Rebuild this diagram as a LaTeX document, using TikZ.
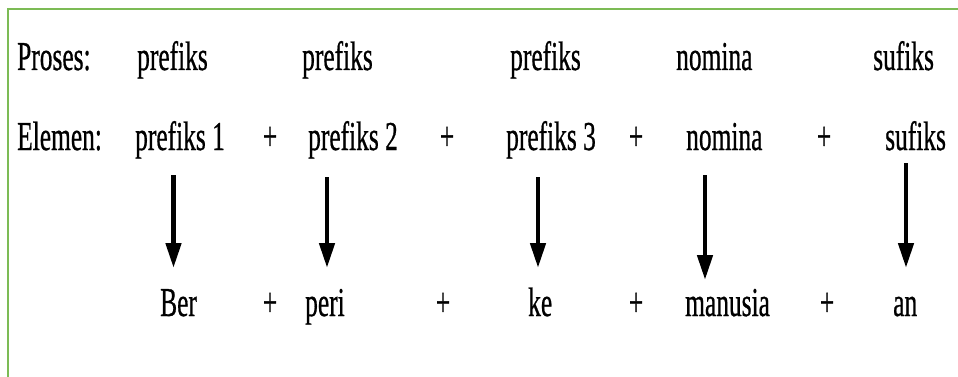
\documentclass[tikz,border=0pt]{standalone}
\usepackage{fontspec}
\setmainfont[FakeBold=0.8]{Liberation Serif}
\usetikzlibrary{arrows.meta}
\definecolor{boxgreen}{RGB}{124,187,85}
\newcommand{\sq}[1]{\scalebox{0.62}[1]{#1}}
\begin{document}
\begin{tikzpicture}[x=1pt,y=-1pt,
  lbl/.style={inner sep=0pt,anchor=base west,font=\fontsize{41}{48}\selectfont},
  plus/.style={inner sep=0pt,anchor=base,font=\fontsize{41}{48}\selectfont},
  arr/.style={line width=4.6pt,-{Triangle[width=15pt,length=25pt]}}]
\useasboundingbox (0,0) rectangle (958,377);
\fill[white] (0,0) rectangle (958,377);
% border
\draw[boxgreen,line width=2.6pt] (8,377) -- (8,9) -- (958,9);
% row 1
\node[lbl] (pr) at (17,70) {\sq{Proses:}};
\node[lbl] (p1) at (137,70) {\sq{prefiks}};
\node[lbl] (p2) at (302,70) {\sq{prefiks}};
\node[lbl] (p3) at (510,70) {\sq{prefiks}};
\node[lbl] (p4) at (676,70) {\sq{nomina}};
\node[lbl] (p5) at (873,70) {\sq{sufiks}};
% row 2
\node[lbl] (el) at (17,150) {\sq{Elemen:}};
\node[lbl] (e1) at (135,150) {\sq{prefiks 1}};
\node[plus] (ea) at (270,150) {\sq{+}};
\node[lbl] (e2) at (308,150) {\sq{prefiks 2}};
\node[plus] (eb) at (447,150) {\sq{+}};
\node[lbl] (e3) at (506,150) {\sq{prefiks 3}};
\node[plus] (ec) at (636,150) {\sq{+}};
\node[lbl] (e4) at (686,150) {\sq{nomina}};
\node[plus] (ed) at (824,150) {\sq{+}};
\node[lbl] (e5) at (885,150) {\sq{sufiks}};
% row 3
\node[lbl] (r1) at (160,316) {\sq{Ber}};
\node[plus] (ra) at (270,316) {\sq{+}};
\node[lbl] (r2) at (305,316) {\sq{peri}};
\node[plus] (rb) at (443,316) {\sq{+}};
\node[lbl] (r3) at (528,316) {\sq{ke}};
\node[plus] (rc) at (636,316) {\sq{+}};
\node[lbl] (r4) at (685,316) {\sq{manusia}};
\node[plus] (rd) at (827,316) {\sq{+}};
\node[lbl] (r5) at (893,316) {\sq{an}};
% arrows
\coordinate (a1s) at (173.5,175);
\coordinate (a1e) at (173.5,268);
\coordinate (a2s) at (327,177);
\coordinate (a2e) at (327,268);
\coordinate (a3s) at (538,177);
\coordinate (a3e) at (538,268);
\coordinate (a4s) at (705,175);
\coordinate (a4e) at (705,280);
\coordinate (a5s) at (906,163);
\coordinate (a5e) at (906,268);
\draw[arr] (a1s) -- (a1e);
\draw[arr] (a2s) -- (a2e);
\draw[arr] (a3s) -- (a3e);
\draw[arr] (a4s) -- (a4e);
\draw[arr] (a5s) -- (a5e);
\end{tikzpicture}
\end{document}
